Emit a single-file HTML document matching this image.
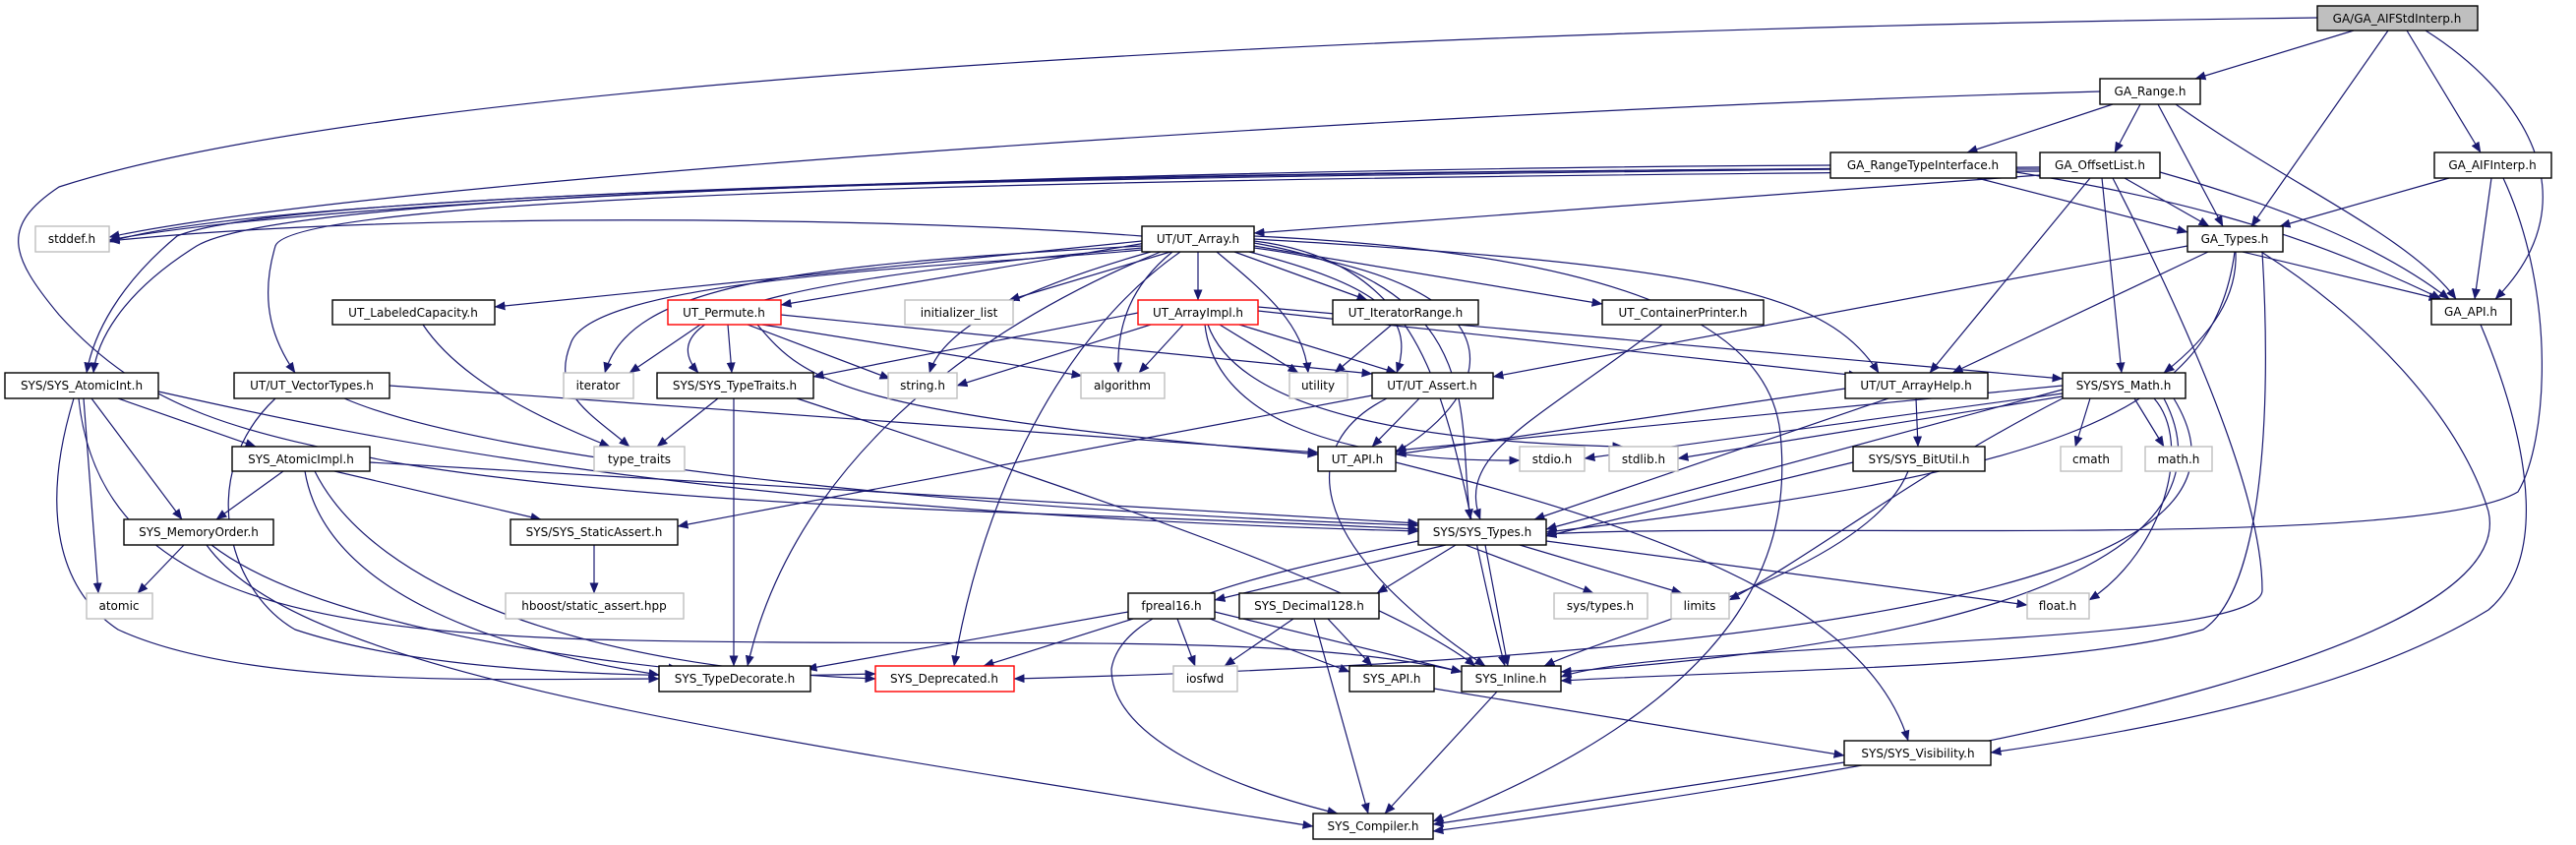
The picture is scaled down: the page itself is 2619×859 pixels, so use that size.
<!DOCTYPE html>
<html><head><meta charset="utf-8"><style>
html,body{margin:0;padding:0;background:#fff;}
svg{display:block;}
text{font-family:"DejaVu Sans","Liberation Sans",sans-serif;font-size:12px;fill:#000;text-anchor:middle;}
.n{fill:#fff;stroke:#000;stroke-width:1.4;}
.g{fill:#fff;stroke:#bfbfbf;stroke-width:1.4;}
.r{fill:#fff;stroke:#ff0000;stroke-width:1.4;}
.e{fill:none;stroke:#191970;stroke-width:1.2;marker-end:url(#a);}
</style></head><body>
<svg width="2619" height="859" viewBox="0 0 2619 859" xmlns="http://www.w3.org/2000/svg">
<defs><marker id="a" markerUnits="userSpaceOnUse" markerWidth="11" markerHeight="9" viewBox="0 0 11 9" refX="10.5" refY="4.5" orient="auto"><path d="M0,0 L11,4.5 L0,9 z" fill="#191970"/></marker></defs>
<g>
<!-- AIFStdInterp -->
<path class="e" d="M2393 31 L2232 80"/>
<path class="e" d="M2428 31 L2289 230"/>
<path class="e" d="M2447 31 L2522 155"/>
<path class="e" d="M2466 31 C2560 90 2640 200 2537 304"/>
<path class="e" d="M2356 18 C1400 30 400 80 60 190 C0 230 10 260 60 320 C150 420 250 440 400 470 C700 520 1100 520 1442 538"/>
<!-- GA_Range -->
<path class="e" d="M2135 93 C1500 110 400 180 111 241"/>
<path class="e" d="M2148 106 L2000 155"/>
<path class="e" d="M2176 106 L2150 155"/>
<path class="e" d="M2194 106 L2260 230"/>
<path class="e" d="M2212 106 C2330 190 2450 240 2497 304"/>
<!-- RTI -->
<path class="e" d="M1861 168 C1400 170 400 190 111 244"/>
<path class="e" d="M2010 181 L2224 236"/>
<path class="e" d="M2050 175 C2200 200 2330 230 2482 304"/>
<path class="e" d="M1861 172 C1200 180 300 190 180 240 C120 290 95 340 88 379"/>
<!-- OffsetList -->
<path class="e" d="M2074 178 L1275 237"/>
<path class="e" d="M2160 181 L2246 230"/>
<path class="e" d="M2196 175 C2320 210 2420 250 2490 304"/>
<path class="e" d="M2125 181 L1962 379"/>
<path class="e" d="M2137 181 L2157 379"/>
<path class="e" d="M2148 181 C2250 380 2300 520 2300 600 C2300 660 1700 650 1587 688"/>
<path class="e" d="M2074 172 C1500 170 300 185 111 246"/>
<path class="e" d="M2074 170 C1200 175 300 190 200 250 C120 300 98 350 95 379"/>
<path class="e" d="M2074 174 C1200 180 300 195 280 250 C262 310 280 350 300 379"/>
<!-- AIFInterp -->
<path class="e" d="M2490 181 L2318 230"/>
<path class="e" d="M2533 181 L2516 304"/>
<path class="e" d="M2545 181 C2600 300 2590 450 2560 500 C2460 560 1800 530 1572 543"/>
<!-- GA_Types -->
<path class="e" d="M2280 256 L2480 304"/>
<path class="e" d="M2273 256 C2275 300 2250 340 2200 379"/>
<path class="e" d="M2245 256 L1985 379"/>
<path class="e" d="M2224 250 L1518 383"/>
<path class="e" d="M2272 256 C2250 420 2100 480 1572 541"/>
<path class="e" d="M2300 256 C2310 420 2300 600 2240 640 C2100 680 1800 680 1587 692"/>
<path class="e" d="M2299 256 C2400 320 2500 420 2530 520 C2560 650 2100 760 1457 845"/>
<!-- GA_API -->
<path class="e" d="M2522 330 C2560 420 2600 560 2530 620 C2400 700 2200 740 2024 765"/>
<!-- UT_Array -->
<path class="e" d="M1161 240 C900 220 400 215 111 245"/>
<path class="e" d="M1161 245 L503 312"/>
<path class="e" d="M1165 247 L794 310"/>
<path class="e" d="M1190 256 L1026 305"/>
<path class="e" d="M1218 256 L1218 305"/>
<path class="e" d="M1255 256 L1390 305"/>
<path class="e" d="M1275 250 L1629 309"/>
<path class="e" d="M1161 250 C800 270 640 290 615 379"/>
<path class="e" d="M1161 252 C850 280 650 310 710 379"/>
<path class="e" d="M1170 256 C1050 290 960 330 945 379"/>
<path class="e" d="M1192 256 C1150 290 1135 330 1137 379"/>
<path class="e" d="M1237 256 C1290 300 1325 330 1330 379"/>
<path class="e" d="M1270 256 C1400 290 1440 320 1420 379"/>
<path class="e" d="M1275 252 C1560 290 1520 400 1419 460"/>
<path class="e" d="M1275 243 C1750 270 1860 300 1910 379"/>
<path class="e" d="M1161 254 C1000 270 600 280 580 350 C560 400 600 420 640 454"/>
<path class="e" d="M1275 247 C1520 290 1480 430 1495 528"/>
<path class="e" d="M1200 256 C1080 340 1000 500 970 677"/>
<path class="e" d="M1180 256 C950 350 800 500 760 677"/>
<path class="e" d="M1275 245 C1480 270 1470 450 1530 677"/>
<path class="e" d="M1275 240 C1700 260 1800 350 1810 440 C1820 540 1800 700 1457 835"/>
<!-- LabeledCapacity -->
<path class="e" d="M430 330 C470 390 560 430 620 454"/>
<!-- Permute -->
<path class="e" d="M712 330 L640 379"/>
<path class="e" d="M740 330 L744 379"/>
<path class="e" d="M760 330 L905 385"/>
<path class="e" d="M775 330 L1100 382"/>
<path class="e" d="M794 320 L1395 380"/>
<path class="e" d="M770 330 C820 390 860 420 1340 462"/>
<!-- ArrayImpl -->
<path class="e" d="M1157 318 L827 383"/>
<path class="e" d="M1170 330 L973 392"/>
<path class="e" d="M1203 330 L1158 379"/>
<path class="e" d="M1240 330 L1320 379"/>
<path class="e" d="M1260 330 L1420 379"/>
<path class="e" d="M1225 330 C1235 420 1350 470 1545 468"/>
<path class="e" d="M1228 330 C1260 420 1450 450 1650 454"/>
<path class="e" d="M1279 316 L1890 382"/>
<path class="e" d="M1279 312 L2097 385"/>
<!-- IterRange -->
<path class="e" d="M1415 330 L1357 379"/>
<!-- ContPrinter -->
<path class="e" d="M1690 330 C1560 430 1480 460 1505 528"/>
<!-- AtomicInt -->
<path class="e" d="M120 405 L260 454"/>
<path class="e" d="M93 405 L185 528"/>
<path class="e" d="M85 405 L100 603"/>
<path class="e" d="M161 398 C350 440 700 520 1442 540"/>
<path class="e" d="M75 405 C40 520 60 600 120 640 C250 700 500 690 670 690"/>
<path class="e" d="M80 405 C100 600 300 640 600 650 C1000 660 1300 640 1486 683"/>
<!-- VectorTypes -->
<path class="e" d="M396 392 L1340 460"/>
<path class="e" d="M350 405 C500 470 1000 520 1442 534"/>
<path class="e" d="M280 405 C200 480 230 600 300 640 C450 690 700 690 890 685"/>
<!-- TypeTraits -->
<path class="e" d="M730 405 L668 454"/>
<path class="e" d="M746 405 L746 677"/>
<path class="e" d="M810 405 C1100 500 1400 600 1500 677"/>
<!-- UT_Assert -->
<path class="e" d="M1443 405 L1395 454"/>
<path class="e" d="M1395 402 L689 535"/>
<path class="e" d="M1410 405 C1320 450 1320 550 1510 677"/>
<!-- UT_API -->
<path class="e" d="M1419 470 C1700 540 1900 620 1940 753"/>
<!-- ArrayHelp -->
<path class="e" d="M1876 395 L1419 462"/>
<path class="e" d="M1920 405 L1560 528"/>
<path class="e" d="M1948 405 L1950 454"/>
<!-- Math -->
<path class="e" d="M2097 396 L1572 538"/>
<path class="e" d="M2097 400 L1611 466"/>
<path class="e" d="M2097 403 L1706 466"/>
<path class="e" d="M2125 405 L2110 454"/>
<path class="e" d="M2170 405 L2200 454"/>
<path class="e" d="M2097 405 C1950 480 1850 560 1758 610"/>
<path class="e" d="M2190 405 C2230 450 2200 560 2124 610"/>
<path class="e" d="M2200 405 C2250 500 2200 640 1587 683"/>
<path class="e" d="M2210 405 C2280 520 2200 660 1031 690"/>
<path class="e" d="M2097 392 L1419 458"/>
<!-- BitUtil -->
<path class="e" d="M1884 470 L1572 545"/>
<path class="e" d="M1940 479 C1900 580 1650 640 1570 677"/>
<!-- AtomicImpl -->
<path class="e" d="M288 479 L220 528"/>
<path class="e" d="M340 479 L550 528"/>
<path class="e" d="M376 470 L1442 532"/>
<path class="e" d="M320 479 C380 600 600 680 890 690"/>
<path class="e" d="M310 479 C330 600 500 660 670 686"/>
<!-- MemoryOrder -->
<path class="e" d="M187 554 L140 603"/>
<path class="e" d="M215 554 C300 620 500 660 690 680"/>
<path class="e" d="M210 554 C300 680 700 740 1335 840"/>
<!-- StaticAssert -->
<path class="e" d="M604 554 L604 603"/>
<!-- SYS_Types -->
<path class="e" d="M1470 554 L1235 610"/>
<path class="e" d="M1480 554 L1400 603"/>
<path class="e" d="M1490 554 L1620 603"/>
<path class="e" d="M1545 554 L1710 603"/>
<path class="e" d="M1572 550 L2061 615"/>
<path class="e" d="M1510 554 L1533 677"/>
<path class="e" d="M1442 550 C1250 590 1140 620 1130 680 C1130 750 1250 800 1360 827"/>
<!-- fpreal16 -->
<path class="e" d="M1147 622 L820 680"/>
<path class="e" d="M1152 629 L1000 677"/>
<path class="e" d="M1197 629 L1215 677"/>
<path class="e" d="M1230 629 L1372 683"/>
<path class="e" d="M1235 622 L1486 683"/>
<!-- Decimal128 -->
<path class="e" d="M1315 629 L1245 677"/>
<path class="e" d="M1350 629 L1395 677"/>
<path class="e" d="M1336 629 L1391 827"/>
<!-- bottom -->
<path class="e" d="M1458 700 L1875 768"/>
<path class="e" d="M1522 703 L1408 827"/>
<path class="e" d="M1875 775 L1457 838"/>
</g>
<g>
<rect class="n" x="2356" y="6" width="163" height="25" style="fill:#bfbfbf"/><text x="2437" y="23">GA/GA_AIFStdInterp.h</text>
<rect class="n" x="2135" y="80" width="102" height="26"/><text x="2186" y="97">GA_Range.h</text>
<rect class="n" x="1861" y="155" width="189" height="26"/><text x="1955" y="172">GA_RangeTypeInterface.h</text>
<rect class="n" x="2074" y="155" width="122" height="26"/><text x="2135" y="172">GA_OffsetList.h</text>
<rect class="n" x="2475" y="155" width="119" height="26"/><text x="2534" y="172">GA_AIFInterp.h</text>
<rect class="n" x="2224" y="230" width="97" height="26"/><text x="2272" y="247">GA_Types.h</text>
<rect class="n" x="2472" y="304" width="81" height="26"/><text x="2512" y="321">GA_API.h</text>
<rect class="n" x="1876" y="379" width="145" height="26"/><text x="1948" y="396">UT/UT_ArrayHelp.h</text>
<rect class="n" x="2097" y="379" width="125" height="26"/><text x="2159" y="396">SYS/SYS_Math.h</text>
<rect class="n" x="1884" y="454" width="134" height="25"/><text x="1951" y="471">SYS/SYS_BitUtil.h</text>
<rect class="g" x="2095" y="454" width="62" height="25"/><text x="2126" y="471">cmath</text>
<rect class="g" x="2181" y="454" width="68" height="25"/><text x="2215" y="471">math.h</text>
<rect class="g" x="36" y="230" width="75" height="26"/><text x="73" y="247">stddef.h</text>
<rect class="n" x="1161" y="230" width="114" height="26"/><text x="1218" y="247">UT/UT_Array.h</text>
<rect class="n" x="338" y="305" width="165" height="25"/><text x="420" y="322">UT_LabeledCapacity.h</text>
<rect class="r" x="679" y="305" width="115" height="25"/><text x="736" y="322">UT_Permute.h</text>
<rect class="g" x="920" y="305" width="110" height="25"/><text x="975" y="322">initializer_list</text>
<rect class="r" x="1157" y="305" width="122" height="25"/><text x="1218" y="322">UT_ArrayImpl.h</text>
<rect class="n" x="1355" y="305" width="148" height="25"/><text x="1429" y="322">UT_IteratorRange.h</text>
<rect class="n" x="1629" y="305" width="164" height="25"/><text x="1711" y="322">UT_ContainerPrinter.h</text>
<rect class="n" x="5" y="379" width="156" height="26"/><text x="83" y="396">SYS/SYS_AtomicInt.h</text>
<rect class="n" x="238" y="379" width="158" height="26"/><text x="317" y="396">UT/UT_VectorTypes.h</text>
<rect class="g" x="573" y="379" width="71" height="26"/><text x="608" y="396">iterator</text>
<rect class="n" x="668" y="379" width="159" height="26"/><text x="747" y="396">SYS/SYS_TypeTraits.h</text>
<rect class="g" x="903" y="379" width="70" height="26"/><text x="938" y="396">string.h</text>
<rect class="g" x="1099" y="379" width="85" height="26"/><text x="1141" y="396">algorithm</text>
<rect class="g" x="1311" y="379" width="59" height="26"/><text x="1340" y="396">utility</text>
<rect class="n" x="1395" y="379" width="123" height="26"/><text x="1456" y="396">UT/UT_Assert.h</text>
<rect class="n" x="1340" y="454" width="79" height="25"/><text x="1380" y="471">UT_API.h</text>
<rect class="g" x="1545" y="454" width="66" height="25"/><text x="1578" y="471">stdio.h</text>
<rect class="g" x="1636" y="454" width="70" height="25"/><text x="1671" y="471">stdlib.h</text>
<rect class="g" x="604" y="454" width="92" height="25"/><text x="650" y="471">type_traits</text>
<rect class="n" x="236" y="454" width="140" height="25"/><text x="306" y="471">SYS_AtomicImpl.h</text>
<rect class="n" x="126" y="528" width="152" height="26"/><text x="202" y="545">SYS_MemoryOrder.h</text>
<rect class="n" x="519" y="528" width="170" height="26"/><text x="604" y="545">SYS/SYS_StaticAssert.h</text>
<rect class="n" x="1442" y="528" width="130" height="26"/><text x="1507" y="545">SYS/SYS_Types.h</text>
<rect class="g" x="514" y="603" width="181" height="26"/><text x="604" y="620">hboost/static_assert.hpp</text>
<rect class="g" x="88" y="603" width="67" height="26"/><text x="121" y="620">atomic</text>
<rect class="n" x="1147" y="603" width="88" height="26"/><text x="1191" y="620">fpreal16.h</text>
<rect class="n" x="1260" y="603" width="142" height="26"/><text x="1331" y="620">SYS_Decimal128.h</text>
<rect class="g" x="1580" y="603" width="95" height="26"/><text x="1627" y="620">sys/types.h</text>
<rect class="g" x="1699" y="603" width="59" height="26"/><text x="1728" y="620">limits</text>
<rect class="g" x="2061" y="603" width="63" height="26"/><text x="2092" y="620">float.h</text>
<rect class="n" x="670" y="677" width="154" height="26"/><text x="747" y="694">SYS_TypeDecorate.h</text>
<rect class="r" x="890" y="677" width="141" height="26"/><text x="960" y="694">SYS_Deprecated.h</text>
<rect class="g" x="1193" y="677" width="65" height="26"/><text x="1225" y="694">iosfwd</text>
<rect class="n" x="1372" y="677" width="86" height="26"/><text x="1415" y="694">SYS_API.h</text>
<rect class="n" x="1486" y="677" width="101" height="26"/><text x="1536" y="694">SYS_Inline.h</text>
<rect class="n" x="1875" y="753" width="149" height="25"/><text x="1950" y="770">SYS/SYS_Visibility.h</text>
<rect class="n" x="1335" y="827" width="122" height="26"/><text x="1396" y="844">SYS_Compiler.h</text>
</g>
</svg>
</body></html>
